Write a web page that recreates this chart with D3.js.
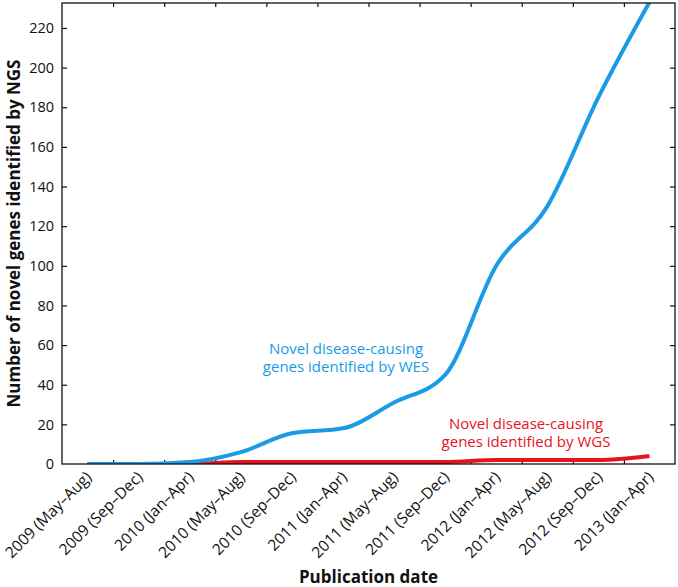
<!DOCTYPE html>
<meta charset="utf-8">
<style>
body { margin: 0; background: #fff; }
svg { display: block; }
text { font-family: "Open Sans", sans-serif; fill: #111; }
.tick-label { font-size: 14.5px; }
.cat-label { font-size: 15.5px; }
.axis-title { font-size: 17px; font-weight: bold; }
.note { font-size: 15px; }
</style>
<body>
<script src="https://d3js.org/d3.v7.min.js"></script>
<script>
// publication periods (x categories)
var periods = ["2009 (May\u2013Aug)", "2009 (Sep\u2013Dec)", "2010 (Jan\u2013Apr)", "2010 (May\u2013Aug)",
               "2010 (Sep\u2013Dec)", "2011 (Jan\u2013Apr)", "2011 (May\u2013Aug)", "2011 (Sep\u2013Dec)",
               "2012 (Jan\u2013Apr)", "2012 (May\u2013Aug)", "2012 (Sep\u2013Dec)", "2013 (Jan\u2013Apr)"];

// cumulative novel genes
var wes = [0, 0, 1, 6, 15.5, 18, 31, 45, 100, 130, 185, 233];
var wgs = [0, 0, 0, 1, 1, 1, 1, 1, 2, 2, 2, 4];

var yTicks = [0, 20, 40, 60, 80, 100, 120, 140, 160, 180, 200, 220];

var W = 678, H = 587;
var margin = {top: 3, right: 3, bottom: 123, left: 62};
var pLeft = margin.left, pRight = W - margin.right,
    pTop = margin.top, pBottom = H - margin.bottom;

var svg = d3.select("body").append("svg")
    .attr("width", W)
    .attr("height", H);

// x: category index, half a step of padding each side
var x = d3.scaleLinear().domain([-0.5, periods.length - 0.5]).range([pLeft, pRight]);
var y = d3.scaleLinear().domain([0, 232.6]).range([pBottom, pTop]);

var blue = "#1b9ae6", red = "#e8121c";

svg.append("defs").append("clipPath").attr("id", "plot")
  .append("rect")
    .attr("x", pLeft).attr("y", pTop)
    .attr("width", pRight - pLeft).attr("height", pBottom - pTop);

// tick marks between categories, top and bottom, pointing in
var xTickPos = d3.range(0.5, periods.length - 1, 1);
svg.append("g")
    .attr("transform", "translate(0," + pBottom + ")")
    .call(d3.axisBottom(x).tickValues(xTickPos).tickSize(-4).tickFormat(""))
    .call(g => g.select(".domain").remove());
svg.append("g")
    .attr("transform", "translate(0," + pTop + ")")
    .call(d3.axisTop(x).tickValues(xTickPos).tickSize(-4).tickFormat(""))
    .call(g => g.select(".domain").remove());

// y ticks left and right
svg.append("g")
    .attr("transform", "translate(" + pLeft + ",0)")
    .call(d3.axisLeft(y).tickValues(yTicks.slice(1)).tickSize(-5).tickFormat(""))
    .call(g => g.select(".domain").remove());
svg.append("g")
    .attr("transform", "translate(" + pRight + ",0)")
    .call(d3.axisRight(y).tickValues(yTicks.slice(1)).tickSize(-5).tickFormat(""))
    .call(g => g.select(".domain").remove());

svg.selectAll(".tick line").attr("stroke", "#111").attr("stroke-width", 1.2);

// y tick labels
svg.append("g").selectAll("text")
    .data(yTicks)
    .enter().append("text")
    .attr("class", "tick-label")
    .attr("x", pLeft - 8)
    .attr("y", d => y(d))
    .attr("dy", "0.36em")
    .attr("text-anchor", "end")
    .text(d => d);

// rotated category labels
svg.append("g").selectAll("text")
    .data(periods)
    .enter().append("text")
    .attr("class", "cat-label")
    .attr("text-anchor", "end")
    .attr("transform", (d, i) => "translate(" + (x(i) + 5) + "," + (pBottom + 14) + ") rotate(-45)")
    .text(d => d);

var line = d3.line()
    .x((d, i) => x(i))
    .y(d => y(d))
    .curve(d3.curveMonotoneX);

var lines = svg.append("g").attr("clip-path", "url(#plot)");
lines.append("path")
    .datum(wgs)
    .attr("d", line)
    .attr("fill", "none")
    .attr("stroke", red)
    .attr("stroke-width", 4);
lines.append("path")
    .datum(wes)
    .attr("d", line)
    .attr("fill", "none")
    .attr("stroke", blue)
    .attr("stroke-width", 4);

// frame
svg.append("rect")
    .attr("x", pLeft).attr("y", pTop)
    .attr("width", pRight - pLeft).attr("height", pBottom - pTop)
    .attr("fill", "none")
    .attr("stroke", "#111")
    .attr("stroke-width", 1.3);

// annotations
var wesNote = svg.append("text").attr("class", "note").attr("text-anchor", "middle").style("fill", blue);
wesNote.append("tspan").attr("x", 346).attr("y", 354).text("Novel disease-causing");
wesNote.append("tspan").attr("x", 346).attr("y", 372).text("genes identified by WES");

var wgsNote = svg.append("text").attr("class", "note").attr("text-anchor", "middle").style("fill", red);
wgsNote.append("tspan").attr("x", 526).attr("y", 429).text("Novel disease-causing");
wgsNote.append("tspan").attr("x", 526).attr("y", 447).text("genes identified by WGS");

// axis titles
svg.append("text")
    .attr("class", "axis-title")
    .attr("text-anchor", "middle")
    .attr("transform", "translate(20," + ((pTop + pBottom) / 2) + ") rotate(-90)")
    .text("Number of novel genes identified by NGS");

svg.append("text")
    .attr("class", "axis-title")
    .attr("text-anchor", "middle")
    .attr("x", (pLeft + pRight) / 2)
    .attr("y", 583)
    .text("Publication date");
</script>
</body>
